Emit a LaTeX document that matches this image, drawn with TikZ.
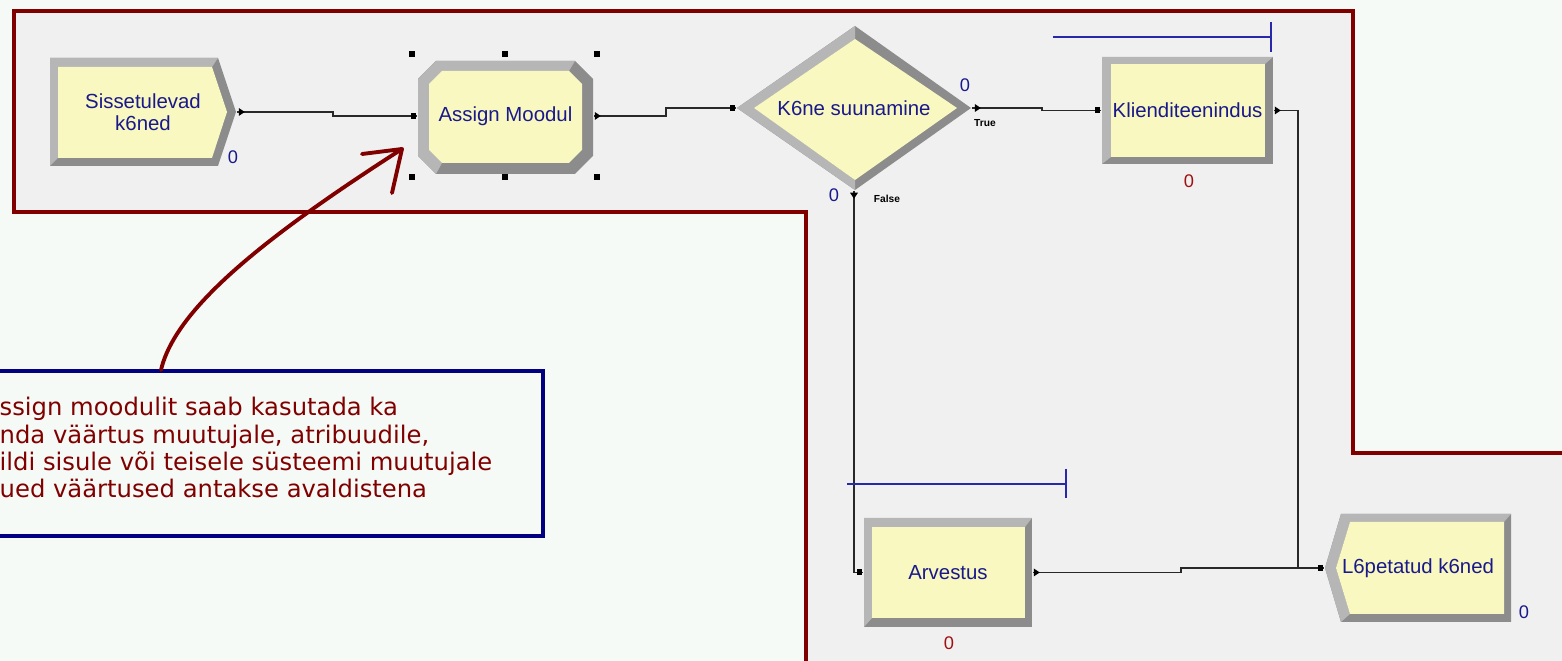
\documentclass[tikz,border=0pt]{standalone}
\usepackage{fontspec}
\setmainfont{Liberation Sans}
\newfontfamily\notefont{DejaVu Sans}
\definecolor{maroonc}{RGB}{128,0,0}
\definecolor{navyc}{RGB}{0,0,128}
\definecolor{lblue}{RGB}{25,25,140}
\definecolor{redz}{RGB}{160,16,16}
\definecolor{yel}{RGB}{248,248,192}
\definecolor{graybg}{RGB}{240,240,240}
\definecolor{lightbg}{RGB}{246,250,247}
\definecolor{bevlight}{RGB}{182,182,182}
\definecolor{bevdark}{RGB}{140,140,140}
\definecolor{durline}{RGB}{40,40,170}
\definecolor{connc}{RGB}{40,40,40}
\begin{document}
\begin{tikzpicture}[x=0.01cm,y=-0.01cm,
  lbl/.style={font=\fontsize{5.8}{6.3}\selectfont, text=lblue, align=center, inner sep=0pt},
  zero/.style={font=\fontsize{5.2}{6}\selectfont, inner sep=0pt},
  tf/.style={font=\fontsize{2.9}{3.2}\selectfont\bfseries, inner sep=0pt},
  conn/.style={draw=connc, line width=0.45pt},
  dur/.style={draw=durline, line width=0.45pt},
  border/.style={draw=maroonc, line width=1.15pt},
  notetxt/.style={font=\notefont\fontsize{6.9}{7.7}\selectfont, text=maroonc, inner sep=0pt, anchor=base west},
  handle/.style={fill=black}
]
\useasboundingbox (0,0) rectangle (1562,661);
\clip (0,0) rectangle (1562,661);
% backgrounds
\fill[lightbg] (0,0) rectangle (1562,661);
\fill[graybg] (14,11) -- (1353,11) -- (1353,453) -- (1570,453) -- (1570,670) -- (806,670) -- (806,212) -- (14,212) -- cycle;
\draw[border] (1570,453) -- (1353,453) -- (1353,11) -- (14,11) -- (14,212) -- (806,212) -- (806,670);

% note box
\node[draw=navyc, line width=1pt, fill=lightbg, minimum width=5.63cm, minimum height=1.65cm, inner sep=0pt] (note) at (261.5,453.5) {};
\node[notetxt] (n1) at (-1,416) {ssign moodulit saab kasutada ka};
\node[notetxt] (n2) at (-1,443.5) {nda väärtus muutujale, atribuudile,};
\node[notetxt] (n3) at (-1,471) {ildi sisule või teisele süsteemi muutujale};
\node[notetxt] (n4) at (-1,498) {ued väärtused antakse avaldistena};

% ---- module frames ----
% create: Sissetulevad k6ned
\fill[bevdark] (50,58) -- (218,58) -- (236,112) -- (218,166) -- (50,166) -- cycle;
\fill[bevlight] (50,166) -- (50,58) -- (218,58) -- (212,67) -- (58,67) -- (58,158) -- cycle;
\fill[yel] (58,67) -- (212,67) -- (227,112) -- (212,158) -- (58,158) -- cycle;
% assign
\fill[bevdark] (418,79) -- (436,61) -- (575,61) -- (593,79) -- (593,156) -- (575,174) -- (436,174) -- (418,156) -- cycle;
\fill[bevlight] (436,174) -- (418,156) -- (418,79) -- (436,61) -- (575,61) -- (569,71) -- (442,71) -- (429,84) -- (429,150) -- (442,163) -- cycle;
\fill[yel] (429,84) -- (442,71) -- (569,71) -- (582,84) -- (582,150) -- (569,163) -- (442,163) -- (429,150) -- cycle;
% decision
\fill[bevdark] (855,26) -- (971,108) -- (855,190) -- (737,108) -- cycle;
\fill[bevlight] (855,190) -- (737,108) -- (855,26) -- (855,39) -- (754,108) -- (855,180) -- cycle;
\fill[yel] (855,39) -- (957,108) -- (855,180) -- (754,108) -- cycle;
% process Klienditeenindus
\fill[bevdark] (1102,57) rectangle (1273,164);
\fill[bevlight] (1102,164) -- (1102,57) -- (1273,57) -- (1265,64) -- (1111,64) -- (1111,157) -- cycle;
\fill[yel] (1111,64) rectangle (1265,157);
% process Arvestus
\fill[bevdark] (864,518) rectangle (1032,627);
\fill[bevlight] (864,627) -- (864,518) -- (1032,518) -- (1025,527) -- (872,527) -- (872,618) -- cycle;
\fill[yel] (872,527) rectangle (1025,618);
% dispose
\fill[bevdark] (1341,514) -- (1511,514) -- (1511,622) -- (1341,622) -- (1325,568) -- cycle;
\fill[bevlight] (1511,514) -- (1341,514) -- (1325,568) -- (1341,622) -- (1350,614) -- (1336,568) -- (1350,522) -- (1504,522) -- cycle;
\fill[yel] (1350,522) -- (1504,522) -- (1504,614) -- (1350,614) -- (1336,568) -- cycle;

% ---- module nodes (labels) ----
\node[lbl, minimum width=1.86cm, minimum height=1.08cm] (sis) at (143,112) {Sissetulevad\\k6ned};
\node[lbl, minimum width=1.75cm, minimum height=1.11cm] (asg) at (505.5,116) {Assign Moodul};
\node[lbl, minimum width=2.34cm, minimum height=1.64cm] (dec) at (854,108) {K6ne suunamine};
\node[lbl, minimum width=1.71cm, minimum height=1.07cm] (kli) at (1187.5,110.5) {Klienditeenindus};
\node[lbl, minimum width=1.68cm, minimum height=1.09cm] (arv) at (948,572.5) {Arvestus};
\node[lbl, minimum width=1.86cm, minimum height=1.08cm] (dis) at (1418,568) {L6petatud k6ned};

% selection handles
\foreach \hx in {412,505,597}{
  \fill[handle] (\hx-3,51) rectangle (\hx+3,57);
  \fill[handle] (\hx-3,174) rectangle (\hx+3,180);
}

% ---- connectors ----
\draw[conn] (sis.east) -- ++(96,0) |- (asg.west);
\draw[conn] (asg.east) -- ++(72,0) |- (dec.west);
\draw[conn] (dec.east) -- ++(70,0) |- (kli.west);
\draw[conn] (kli.east) -- ++(24,0) |- (dis.west);
\draw[conn] (dec.south) |- (arv.west);
\draw[conn] (arv.east) -- ++(148,0) |- (dis.west);

% entry squares
\fill ([shift={(-6,-3)}]asg.west) rectangle ++(5,6);
\fill ([shift={(-6,-3)}]dec.west) rectangle ++(5,6);
\fill ([shift={(-6,-3)}]kli.west) rectangle ++(5,6);
\fill ([shift={(-6,-3)}]arv.west) rectangle ++(5,6);
\fill ([shift={(-6,-3)}]dis.west) rectangle ++(5,6);
% exit triangles
\fill ([shift={(2,-4)}]sis.east) -- ++(6,4) -- ++(-6,4) -- cycle;
\fill ([shift={(1,-4)}]asg.east) -- ++(6,4) -- ++(-6,4) -- cycle;
\fill ([shift={(3,-4)}]dec.east) -- ++(6,4) -- ++(-6,4) -- cycle;
\fill ([shift={(1,-4)}]kli.east) -- ++(6,4) -- ++(-6,4) -- cycle;
\fill ([shift={(1,-4)}]arv.east) -- ++(6,4) -- ++(-6,4) -- cycle;
\fill ([shift={(-4,2)}]dec.south) -- ++(8,0) -- ++(-4,6) -- cycle;

% duration bars
\draw[dur] (1053,37) -- (1271,37);
\draw[dur] (1271,22) -- (1271,52);
\draw[dur] (847,484) -- (1066,484);
\draw[dur] (1066,469) -- (1066,498);

% counters
\node[zero, text=lblue] (z1) at (233,157) {0};
\node[zero, text=lblue] (z2) at (965,85) {0};
\node[zero, text=lblue] (z3) at (834,195) {0};
\node[zero, text=redz] (z4) at (1189,181) {0};
\node[zero, text=redz] (z5) at (949,643) {0};
\node[zero, text=lblue] (z6) at (1524,612) {0};
\node[tf] (tt) at (985,123) {True};
\node[tf] (ff) at (887,199) {False};

% annotation arrow
\coordinate (arrS) at (161,370);
\coordinate (arrE) at (402,149);
\draw[draw=maroonc, line width=1.1pt, line cap=round] (arrS) .. controls (175,310) and (260,240) .. (arrE);
\draw[draw=maroonc, line width=1.1pt, line cap=round, line join=round] (362,154) -- (arrE) -- (392,193);
\end{tikzpicture}
\end{document}
